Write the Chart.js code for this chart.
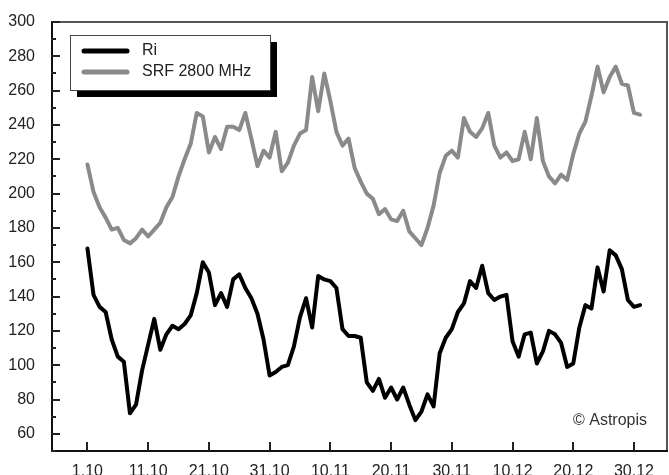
<!DOCTYPE html>
<html>
<head>
<meta charset="utf-8">
<script src="https://cdn.jsdelivr.net/npm/chart.js@4/dist/chart.umd.min.js"></script>
<style>
  html, body { margin: 0; padding: 0; background: #fff; }
  #wrap { width: 669px; height: 475px; position: relative; }
</style>
</head>
<body>
<div id="wrap"><canvas id="c" width="669" height="475"></canvas></div>
<script>
// Daily values, 1 October (day 0) to 31 December (day 91)
const ri = [
  168, 141, 134, 131, 115, 105, 102, 72, 77, 97,
  112, 127, 109, 118, 123, 121, 124, 129, 142, 160,
  154, 135, 142, 134, 150, 153, 145, 139, 130, 115,
  94, 96, 99, 100, 111, 128, 139, 122, 152, 150,
  149, 145, 121, 117, 117, 116, 90, 85, 92, 81,
  87, 80, 87, 77, 68, 73, 83, 76, 107, 116,
  121, 131, 136, 149, 145, 158, 142, 138, 140, 141,
  114, 105, 118, 119, 101, 108, 120, 118, 113, 99,
  101, 122, 135, 133, 157, 143, 167, 164, 156, 138,
  134, 135
];
const srf = [
  217, 201, 192, 186, 179, 180, 173, 171, 174, 179,
  175, 179, 183, 192, 198, 210, 220, 229, 247, 245,
  224, 233, 226, 239, 239, 237, 247, 232, 216, 225,
  221, 236, 213, 218, 228, 235, 237, 268, 248, 270,
  254, 236, 228, 232, 215, 207, 200, 197, 188, 191,
  185, 184, 190, 178, 174, 170, 180, 193, 212, 222,
  225, 221, 244, 236, 233, 238, 247, 228, 221, 224,
  219, 220, 236, 220, 244, 219, 210, 206, 211, 208,
  223, 235, 242, 257, 274, 259, 268, 274, 264, 263,
  247, 246
];
const seriesNames = ['Ri', 'SRF 2800 MHz'];
const tickDays = [0, 10, 20, 30, 40, 50, 60, 70, 80, 90];
const tickLabels = ['1.10', '11.10', '21.10', '31.10', '10.11', '20.11', '30.11', '10.12', '20.12', '30.12'];
const yTicks = [60, 80, 100, 120, 140, 160, 180, 200, 220, 240, 260, 280, 300];
const yMinorTicks = [50, 70, 90, 110, 130, 150, 170, 190, 210, 230, 250, 270, 290];

const FONT = '"Liberation Sans", Arial, sans-serif';

// Frame, inward tick marks, legend box with shadow and credit line
const decor = {
  id: 'decor',
  afterDraw(chart) {
    const { ctx, chartArea: a, scales } = chart;
    const xs = scales.x, ys = scales.y;
    const L = Math.round(a.left), R = Math.round(a.right), T = Math.round(a.top), B = Math.round(a.bottom);
    ctx.save();
    // top and right edges
    ctx.fillStyle = '#555';
    ctx.fillRect(L, T - 1, R - L, 2);
    ctx.fillRect(R - 2, T - 1, 2, B - T + 1);
    // left and bottom axes
    ctx.fillStyle = '#111';
    ctx.fillRect(L, T - 1, 2, B - T + 2);
    ctx.fillRect(L, B - 1, R - L, 2);
    // tick marks pointing into the plot
    ctx.fillStyle = '#222';
    yTicks.forEach(v => {
      const y = Math.round(ys.getPixelForValue(v));
      ctx.fillRect(L, y - 1, 9, 2);
    });
    yMinorTicks.forEach(v => {
      const y = Math.round(ys.getPixelForValue(v));
      ctx.fillRect(L, y - 1, 5, 2);
    });
    tickDays.forEach(d => {
      const x = Math.round(xs.getPixelForValue(d));
      ctx.fillRect(x - 1, B - 9, 2, 9);
    });

    // legend
    const bx = 70, by = 35, bw = 200, bh = 55, sh = 7;
    ctx.fillStyle = '#000';
    ctx.fillRect(bx + sh, by + sh, bw, bh);
    ctx.fillStyle = '#fff';
    ctx.fillRect(bx, by, bw, bh);
    ctx.strokeStyle = '#444';
    ctx.lineWidth = 1;
    ctx.strokeRect(bx + 0.5, by + 0.5, bw, bh);
    chart.data.datasets.forEach((ds, i) => {
      const y = 51 + i * 21;
      ctx.strokeStyle = ds.borderColor;
      ctx.lineWidth = 5;
      ctx.lineCap = 'round';
      ctx.beginPath();
      ctx.moveTo(84, y); ctx.lineTo(127, y);
      ctx.stroke();
      ctx.fillStyle = '#222';
      ctx.font = '16px ' + FONT;
      ctx.textBaseline = 'middle';
      ctx.textAlign = 'left';
      ctx.fillText(ds.label, 142, y);
    });

    // credit
    ctx.fillStyle = '#333';
    ctx.font = '16px ' + FONT;
    ctx.textAlign = 'left';
    ctx.textBaseline = 'middle';
    ctx.fillText('\u00A9 Astropis', 573, 421);
    ctx.restore();
  }
};

new Chart(document.getElementById('c'), {
  type: 'line',
  data: {
    datasets: [
      { label: seriesNames[0], data: ri.map((v, i) => ({ x: i, y: v })), borderColor: '#000', borderWidth: 4 },
      { label: seriesNames[1], data: srf.map((v, i) => ({ x: i, y: v })), borderColor: '#8a8a8a', borderWidth: 4 }
    ]
  },
  options: {
    responsive: false,
    animation: false,
    devicePixelRatio: 1,
    layout: { padding: { top: 22, right: 1, left: 0, bottom: 0 } },
    elements: {
      point: { radius: 0 },
      line: { tension: 0, borderJoinStyle: 'round', borderCapStyle: 'round' }
    },
    plugins: { legend: { display: false }, tooltip: { enabled: false } },
    scales: {
      x: {
        type: 'linear',
        min: -6, max: 95.6,
        grid: { display: false },
        border: { display: false },
        afterBuildTicks(s) { s.ticks = tickDays.map(v => ({ value: v })); },
        afterFit(s) { s.height = 24; },
        ticks: {
          autoSkip: false, maxRotation: 0, padding: 0,
          color: '#222', font: { family: FONT, size: 16, lineHeight: 1.6 },
          callback(v) { const k = tickDays.indexOf(v); return k >= 0 ? tickLabels[k] : ''; }
        }
      },
      y: {
        min: 50, max: 300,
        grid: { display: false },
        border: { display: false },
        afterBuildTicks(s) { s.ticks = yTicks.map(v => ({ value: v })); },
        afterFit(s) { s.width = 51; },
        ticks: {
          padding: 8, color: '#222', font: { family: FONT, size: 16 }
        }
      }
    }
  },
  plugins: [decor]
});
</script>
</body>
</html>
